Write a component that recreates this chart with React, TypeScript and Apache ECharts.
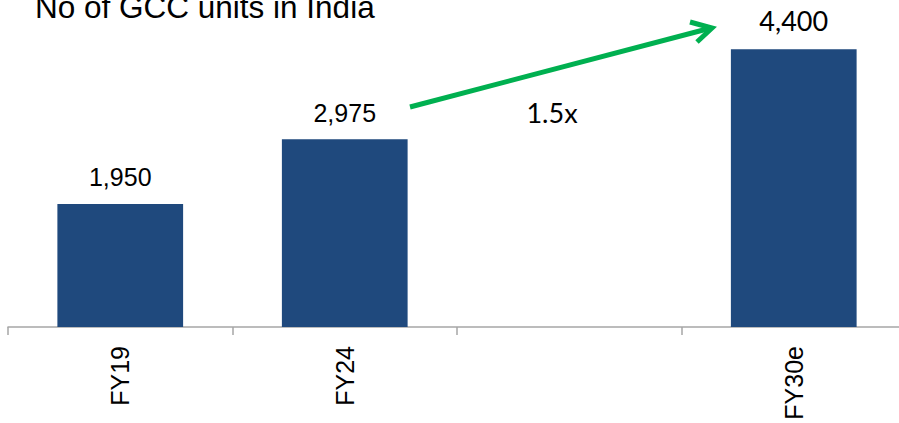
import React, { useEffect, useRef } from "react";
import * as echarts from "echarts";

const categories = ["FY19", "FY24", "", "FY30e"];
const values: (number | null)[] = [1950, 2975, null, 4400];
const labelTexts = ["1,950", "2,975", "", "4,400"];
const titleText = "No of GCC units in India";
const growthText = "1.5x";

const ARIAL = "'Liberation Sans', Arial, sans-serif";
const CALIBRI = "Lato, 'Open Sans', sans-serif";

export default function App() {
  const ref = useRef<HTMLDivElement>(null);
  useEffect(() => {
    if (!ref.current) return;
    const chart = echarts.init(ref.current, undefined, { renderer: "svg" });
    const data = values.map((v, i) => {
      if (v === null) return null;
      const isLast = i === values.length - 1;
      return {
        value: v,
        label: {
          show: true,
          position: "top",
          distance: isLast ? 15 : 14,
          formatter: () => labelTexts[i],
          fontFamily: isLast ? CALIBRI : ARIAL,
          fontSize: isLast ? 27 : 25,
          color: "#000",
        },
      };
    });
    chart.setOption({
      animation: false,
      backgroundColor: "#ffffff",
      grid: { left: 8, top: 11.5, width: 898, bottom: 96, containLabel: false },
      xAxis: {
        type: "category",
        data: categories,
        boundaryGap: true,
        axisLine: { show: true, lineStyle: { color: "#A6A6A6", width: 1.5 } },
        axisTick: { show: true, length: 8, alignWithLabel: false, lineStyle: { color: "#A6A6A6", width: 1.5 } },
        axisLabel: {
          rotate: 90,
          margin: 19,
          fontSize: 25,
          fontFamily: ARIAL,
          color: "#000",
          interval: 0,
        },
      },
      yAxis: {
        type: "value",
        min: 0,
        max: 5000,
        show: false,
        splitLine: { show: false },
      },
      series: [
        {
          type: "bar",
          data,
          barWidth: "56%",
          itemStyle: { color: "#1F497D" },
        },
      ],
      graphic: [
        {
          type: "text",
          left: 35,
          top: -9,
          style: {
            text: titleText,
            fontSize: 31.5,
            fontFamily: ARIAL,
            fill: "#000",
          },
        },
        {
          type: "polyline",
          shape: { points: [[410, 107], [711, 28]] },
          style: { stroke: "#00B050", lineWidth: 5, fill: null, lineCap: "butt" },
        },
        {
          type: "polyline",
          shape: { points: [[690, 22], [712, 28], [697, 42]] },
          style: { stroke: "#00B050", lineWidth: 5, fill: null, lineCap: "butt", lineJoin: "miter" },
        },
        {
          type: "text",
          x: 552,
          y: 112,
          style: {
            text: growthText,
            fontSize: 27,
            fontFamily: CALIBRI,
            fill: "#000",
            align: "center",
            verticalAlign: "middle",
          },
        },
      ],
    });
    return () => chart.dispose();
  }, []);
  return (
    <div style={{ width: 899, height: 423, position: "absolute", left: 0, top: 0, overflow: "hidden" }}>
      <div ref={ref} style={{ width: 912, height: 423 }} />
    </div>
  );
}
